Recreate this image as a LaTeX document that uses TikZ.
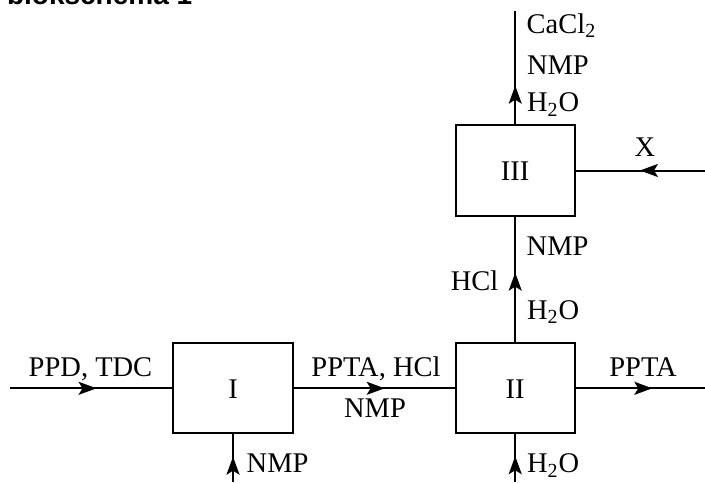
\documentclass[tikz,border=0pt]{standalone}
\usepackage{fontspec}
\setmainfont{Liberation Serif}
\setsansfont{Liberation Sans}
\usetikzlibrary{arrows.meta,decorations.markings}
\begin{document}
\begin{tikzpicture}[x=0.5pt,y=-0.5pt,
  every node/.style={font=\fontsize{14.25}{16}\selectfont, inner sep=0pt, outer sep=0pt},
  unit/.style={draw, line width=1pt, minimum width=59.7pt, minimum height=45pt},
  lbl/.style={anchor=base},
  lblw/.style={anchor=base west},
  lble/.style={anchor=base east},
  flowline/.style={line width=1pt},
  midarrow/.style={flowline, postaction={decorate},
    decoration={markings, mark=at position #1 with {\arrow{Stealth[length=9pt,width=6.5pt,inset=2pt]}}}}
]
\useasboundingbox (0,0) rectangle (705,482);
\begin{scope}
  \clip (0,0) rectangle (705,482);
  \node[anchor=base west, font=\sffamily\bfseries\fontsize{14}{16}\selectfont] (title) at (7,4) {blokschema 1};
\end{scope}

% units
\node[unit] (I) at (233,388.3) {};
\node[unit] (II) at (515.2,388.3) {};
\node[unit, minimum height=45.5pt] (III) at (515.2,170.5) {};
\node[lbl] (tI) at (233,398.3) {I};
\node[lbl] (tII) at (515.2,398.3) {II};
\node[lbl] (tIII) at (515.2,180) {III};

% free ends
\coordinate (in1) at (10,388.3);
\coordinate (out1) at (705,388.3);
\coordinate (inI) at (233,482);
\coordinate (inII) at (515.2,482);
\coordinate (outIII) at (515.2,11);
\coordinate (inX) at (705,170.5);

% connectors
\draw[midarrow=0.53] (in1) -- (I.west);
\draw[midarrow=0.565] (I.east) -- (II.west);
\draw[midarrow=0.595] (II.east) -- (out1);
\draw[midarrow=0.52] (inI) -- (I.south);
\draw[midarrow=0.53] (inII) -- (II.south);
\draw[midarrow=0.555] (II.north) -- (III.south);
\draw[midarrow=0.345] (III.north) -- (outIII);
\draw[midarrow=0.5] (inX) -- (III.east);

% labels
\node[lbl] (l1) at (90.5,376) {PPD, TDC};
\node[lbl] (l2) at (376,376) {PPTA, HCl};
\node[lbl] (l3) at (375,417) {NMP};
\node[lbl] (l4) at (643,376) {PPTA};
\node[lblw] (l5) at (246.7,472.7) {NMP};
\node[lblw] (l6) at (527,472.7) {H\textsubscript{2}O};
\node[lble] (l7) at (498.3,290.7) {HCl};
\node[lblw] (l8) at (526.7,255) {NMP};
\node[lblw] (l9) at (527,319) {H\textsubscript{2}O};
\node[lbl] (l10) at (645,156.7) {X};
\node[lblw] (l11) at (526.7,33.3) {CaCl\textsubscript{2}};
\node[lblw] (l12) at (527,74) {NMP};
\node[lblw] (l13) at (527,111.7) {H\textsubscript{2}O};
\end{tikzpicture}
\end{document}
